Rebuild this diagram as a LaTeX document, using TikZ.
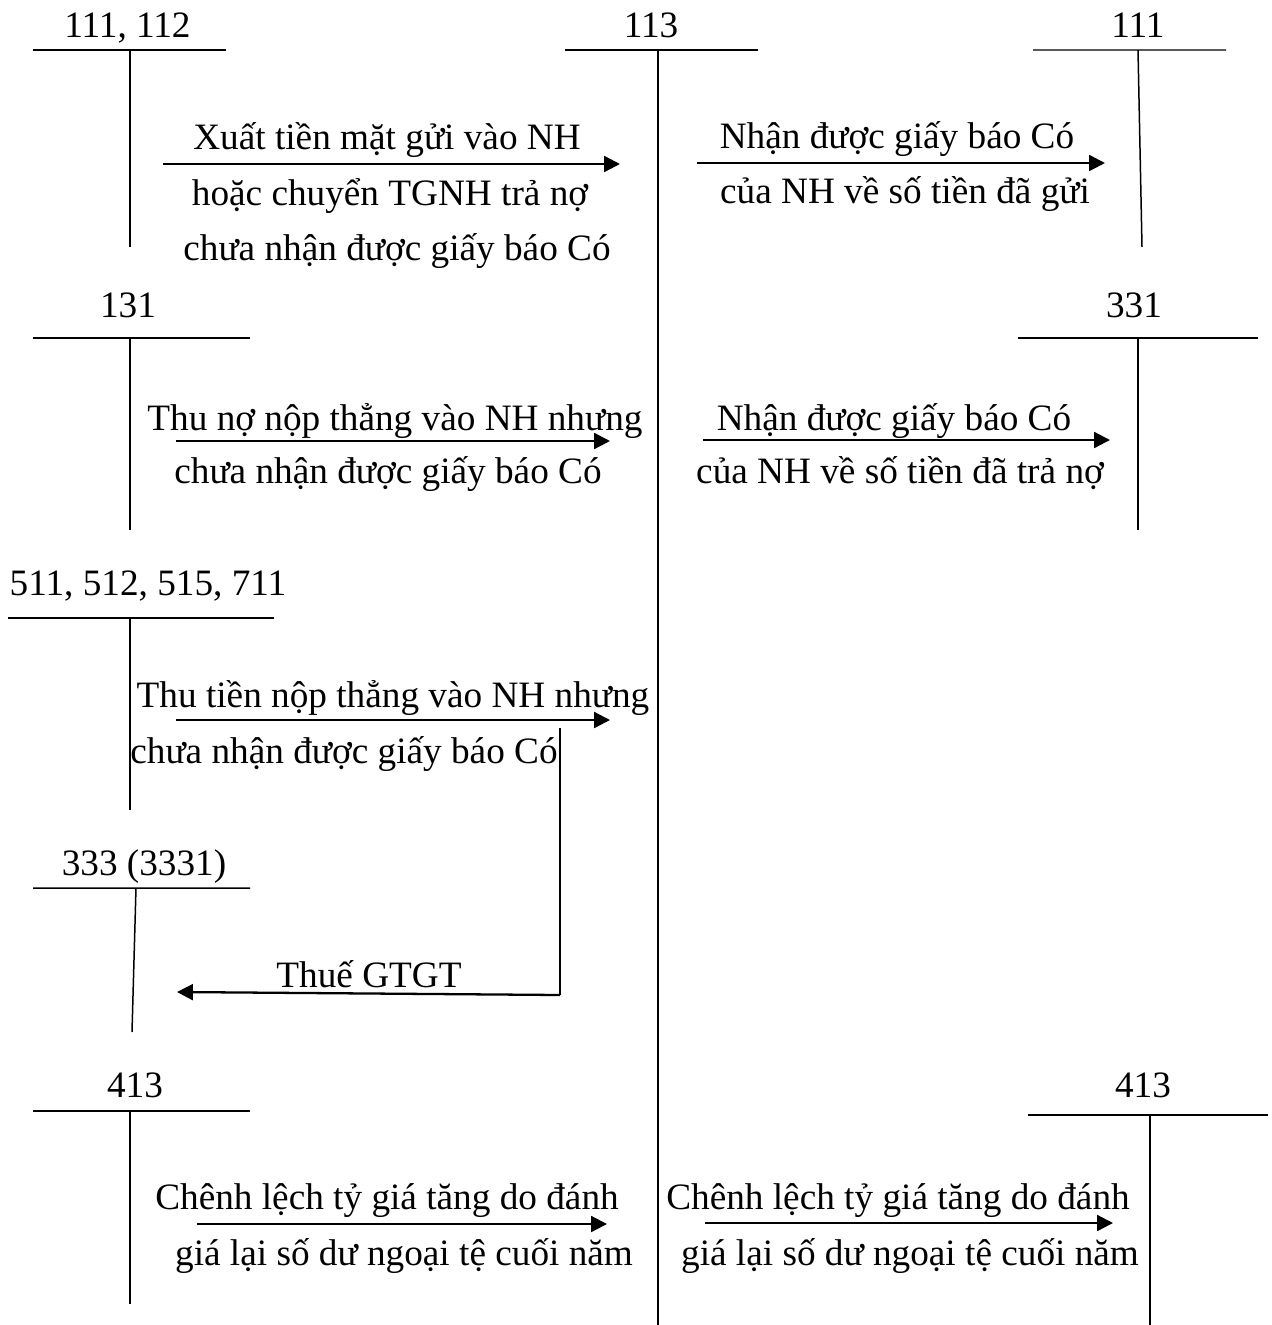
\documentclass[tikz,border=0pt]{standalone}
\usepackage{fontspec}
\setmainfont{Liberation Serif}
\usetikzlibrary{arrows.meta,positioning}

\begin{document}
\begin{tikzpicture}[
  x=0.02cm, y=-0.02cm,
  >={Triangle[length=9pt,width=9pt]},
  tacct/.style={line width=0.85pt},
  flow/.style={->, line width=1.3pt},
  acctno/.style={font=\fontsize{21.2}{25}\selectfont, inner sep=0pt, anchor=base},
  memo/.style={font=\fontsize{21.2}{25}\selectfont, inner sep=0pt, anchor=base}
]
  \useasboundingbox (0,0) rectangle (1271,1325);

  % tai khoan chu T
  \node[acctno] (tk111a) at (127.5,37) {111, 112};
  \draw[tacct] (33,50) -- (226,50) (130,50) -- (130,247);
  \node[acctno] (tk113) at (651,37) {113};
  \draw[tacct] (565,50) -- (758,50) (658,50) -- (658,1325);
  \node[acctno] (tk111b) at (1138,37) {111};
  \draw[tacct] (1033,50) -- (1226,50) (1138,50) -- (1142,247);

  \node[acctno] (tk131) at (128,317) {131};
  \draw[tacct] (33,338) -- (250,338) (130,338) -- (130,530);
  \node[acctno] (tk331) at (1134,317) {331};
  \draw[tacct] (1018,338) -- (1258,338) (1138,338) -- (1138,530);

  \node[acctno] (tk511) at (148,595) {511, 512, 515, 711};
  \draw[tacct] (8,618) -- (274,618) (130,618) -- (130,810);

  \node[acctno] (tk333) at (144,875) {333 (3331)};
  \draw[tacct] (33,888) -- (250,888) (136,888) -- (132,1032);

  \node[acctno] (tk413a) at (135,1097) {413};
  \draw[tacct] (33,1111) -- (250,1111) (130,1111) -- (130,1304);
  \node[acctno] (tk413b) at (1143,1097) {413};
  \draw[tacct] (1028,1115) -- (1268,1115) (1150,1115) -- (1150,1325);

  % nghiep vu
  \coordinate (f1s) at (163,164);  \coordinate (f1e) at (620,164);
  \coordinate (f2s) at (697,163);  \coordinate (f2e) at (1105,163);
  \coordinate (f3s) at (176,441);  \coordinate (f3e) at (610,441);
  \coordinate (f4s) at (703,440);  \coordinate (f4e) at (1110,440);
  \coordinate (f5s) at (176,720);  \coordinate (f5e) at (610,720);
  \coordinate (vat1) at (560,728); \coordinate (vat2) at (560,995);
  \coordinate (vat3) at (177,992);
  \coordinate (f6s) at (197,1224); \coordinate (f6e) at (607,1224);
  \coordinate (f7s) at (705,1223); \coordinate (f7e) at (1113,1223);

  \draw[flow] (f1s) -- (f1e);
  \draw[flow] (f2s) -- (f2e);
  \draw[flow] (f3s) -- (f3e);
  \draw[flow] (f4s) -- (f4e);
  \draw[flow] (f5s) -- (f5e);
  \draw[tacct] (vat1) -- (vat2);
  \draw[flow] (vat2) -- (vat3);
  \draw[flow] (f6s) -- (f6e);
  \draw[flow] (f7s) -- (f7e);

  \node[memo] (m1a) at (387,149) {Xuất tiền mặt gửi vào NH};
  \node[memo] (m1b) at (390,205) {hoặc chuyển TGNH trả nợ};
  \node[memo] (m1c) at (397,260) {chưa nhận được giấy báo Có};
  \node[memo] (m2a) at (897,148) {Nhận được giấy báo Có};
  \node[memo] (m2b) at (905,203) {của NH về số tiền đã gửi};
  \node[memo] (m3a) at (395,430) {Thu nợ nộp thẳng vào NH nhưng};
  \node[memo] (m3b) at (388,483) {chưa nhận được giấy báo Có};
  \node[memo] (m4a) at (894,430) {Nhận được giấy báo Có};
  \node[memo] (m4b) at (900,483) {của NH về số tiền đã trả nợ};
  \node[memo] (m5a) at (393,707) {Thu tiền nộp thẳng vào NH nhưng};
  \node[memo] (m5b) at (344,763) {chưa nhận được giấy báo Có};
  \node[memo] (mvat) at (369,987) {Thuế GTGT};
  \node[memo] (m6a) at (387,1209) {Chênh lệch tỷ giá tăng do đánh};
  \node[memo] (m6b) at (404,1265) {giá lại số dư ngoại tệ cuối năm};
  \node[memo] (m7a) at (898,1209) {Chênh lệch tỷ giá tăng do đánh};
  \node[memo] (m7b) at (910,1265) {giá lại số dư ngoại tệ cuối năm};
\end{tikzpicture}
\end{document}
